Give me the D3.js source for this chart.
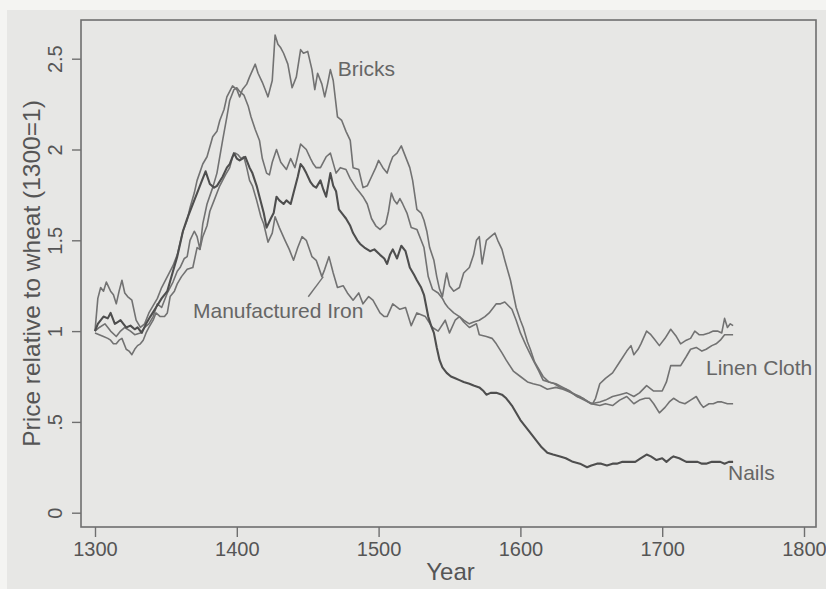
<!DOCTYPE html>
<html>
<head>
<meta charset="utf-8">
<script src="https://cdn.jsdelivr.net/npm/d3@7"></script>
<style>
  body { margin: 0; background: #f4f4f2; }
  svg text { font-family: "Liberation Sans", Arial, Helvetica, sans-serif; }
</style>
</head>
<body>
<div id="chart"></div>
<script>
// data: [year, price relative to wheat]
var bricks = [[1300,1.00],[1302,1.18],[1304,1.24],[1306,1.22],[1308,1.27],[1311,1.22],[1313,1.20],[1315,1.15],[1317,1.22],[1319,1.28],[1321,1.21],[1323,1.19],[1326,1.17],[1329,1.06],[1332,1.02],[1335,1.04],[1338,1.10],[1341,1.14],[1344,1.18],[1347,1.24],[1351,1.30],[1355,1.36],[1358,1.42],[1362,1.55],[1365,1.61],[1367,1.68],[1370,1.76],[1372,1.83],[1376,1.92],[1379,1.96],[1383,2.07],[1386,2.10],[1388,2.16],[1391,2.22],[1393,2.29],[1395,2.32],[1397,2.35],[1400,2.33],[1402,2.29],[1404,2.33],[1407,2.36],[1409,2.40],[1413,2.47],[1415,2.42],[1418,2.37],[1420,2.33],[1422,2.29],[1425,2.38],[1427,2.63],[1429,2.58],[1431,2.56],[1433,2.53],[1436,2.47],[1439,2.34],[1442,2.40],[1445,2.55],[1447,2.53],[1450,2.54],[1453,2.44],[1455,2.33],[1457,2.42],[1460,2.36],[1462,2.29],[1464,2.36],[1466,2.44],[1468,2.38],[1471,2.18],[1474,2.16],[1477,2.10],[1480,2.05],[1482,1.90],[1486,1.89],[1489,1.79],[1492,1.80],[1495,1.85],[1498,1.90],[1500,1.94],[1503,1.90],[1506,1.87],[1508,1.92],[1510,1.96],[1513,1.98],[1516,2.02],[1518,1.98],[1520,1.94],[1522,1.90],[1524,1.83],[1527,1.67],[1530,1.65],[1532,1.61],[1534,1.55],[1536,1.46],[1539,1.39],[1541,1.30],[1543,1.23],[1545,1.19],[1547,1.28],[1548,1.32],[1550,1.25],[1553,1.22],[1557,1.24],[1560,1.32],[1564,1.35],[1567,1.42],[1569,1.50],[1571,1.52],[1573,1.37],[1576,1.50],[1579,1.52],[1582,1.54],[1584,1.50],[1587,1.45],[1589,1.39],[1593,1.28],[1597,1.13],[1600,1.06],[1602,1.02],[1605,0.94],[1607,0.90],[1610,0.83],[1613,0.79],[1616,0.75],[1620,0.72],[1624,0.71],[1628,0.69],[1632,0.68],[1636,0.66],[1640,0.64],[1644,0.63],[1648,0.61],[1651,0.60],[1653,0.63],[1656,0.71],[1660,0.74],[1665,0.77],[1670,0.83],[1675,0.89],[1678,0.92],[1680,0.87],[1683,0.90],[1685,0.93],[1689,1.00],[1692,0.98],[1694,0.96],[1698,0.92],[1702,0.96],[1706,1.01],[1710,0.97],[1713,0.93],[1717,0.95],[1720,0.96],[1723,1.00],[1726,0.98],[1729,0.98],[1733,0.99],[1736,1.00],[1739,1.00],[1742,0.99],[1744,1.07],[1746,1.02],[1748,1.04],[1750,1.03]];

var linenCloth = [[1300,1.00],[1303,1.02],[1307,1.04],[1311,1.00],[1315,0.97],[1318,1.00],[1321,1.02],[1325,1.00],[1328,0.98],[1332,0.99],[1335,1.02],[1338,1.04],[1341,1.08],[1344,1.15],[1347,1.13],[1351,1.21],[1355,1.27],[1358,1.33],[1360,1.35],[1363,1.40],[1365,1.41],[1367,1.50],[1370,1.55],[1372,1.52],[1374,1.45],[1376,1.59],[1379,1.70],[1383,1.79],[1386,1.87],[1390,2.05],[1393,2.18],[1395,2.27],[1398,2.33],[1400,2.34],[1402,2.32],[1405,2.30],[1408,2.24],[1410,2.18],[1413,2.11],[1416,2.05],[1418,1.95],[1421,1.87],[1423,1.86],[1425,1.93],[1428,2.00],[1431,1.93],[1435,1.89],[1438,1.95],[1441,1.90],[1445,2.03],[1449,2.00],[1452,1.95],[1454,1.92],[1456,1.90],[1459,1.90],[1463,1.96],[1466,1.98],[1470,1.87],[1473,1.90],[1477,1.89],[1480,1.84],[1484,1.79],[1487,1.76],[1489,1.74],[1492,1.70],[1495,1.62],[1498,1.58],[1501,1.56],[1505,1.59],[1507,1.66],[1509,1.76],[1511,1.72],[1513,1.70],[1515,1.73],[1517,1.70],[1520,1.65],[1523,1.57],[1527,1.56],[1530,1.50],[1532,1.46],[1535,1.30],[1538,1.23],[1542,1.21],[1545,1.18],[1547,1.15],[1549,1.13],[1553,1.10],[1557,1.08],[1560,1.06],[1564,1.04],[1567,1.05],[1571,1.06],[1575,1.08],[1578,1.10],[1583,1.15],[1586,1.15],[1589,1.16],[1594,1.12],[1597,1.06],[1600,0.99],[1604,0.92],[1609,0.84],[1613,0.78],[1616,0.73],[1620,0.72],[1625,0.71],[1630,0.69],[1635,0.67],[1640,0.64],[1645,0.62],[1650,0.60],[1656,0.61],[1660,0.62],[1665,0.64],[1670,0.65],[1675,0.66],[1680,0.64],[1684,0.66],[1689,0.70],[1694,0.67],[1700,0.67],[1703,0.72],[1706,0.81],[1710,0.81],[1713,0.81],[1717,0.86],[1720,0.90],[1724,0.91],[1728,0.89],[1731,0.90],[1735,0.92],[1738,0.93],[1741,0.95],[1744,0.98],[1747,0.98],[1750,0.98]];

var iron = [[1300,0.99],[1303,0.98],[1306,0.97],[1309,0.96],[1311,0.95],[1313,0.93],[1315,0.93],[1317,0.95],[1319,0.96],[1322,0.90],[1324,0.89],[1326,0.87],[1328,0.90],[1330,0.92],[1332,0.93],[1334,0.95],[1336,0.99],[1338,1.02],[1341,1.06],[1343,1.10],[1346,1.08],[1349,1.08],[1351,1.10],[1353,1.19],[1356,1.22],[1358,1.26],[1361,1.30],[1365,1.34],[1369,1.35],[1372,1.46],[1374,1.45],[1376,1.52],[1379,1.58],[1381,1.66],[1384,1.72],[1386,1.76],[1388,1.80],[1390,1.83],[1392,1.86],[1395,1.90],[1397,1.96],[1399,1.98],[1401,1.97],[1403,1.95],[1405,1.96],[1407,1.90],[1409,1.83],[1411,1.80],[1414,1.72],[1417,1.63],[1419,1.59],[1422,1.49],[1425,1.54],[1427,1.63],[1430,1.57],[1434,1.50],[1437,1.45],[1440,1.39],[1443,1.46],[1446,1.52],[1449,1.50],[1453,1.41],[1456,1.39],[1460,1.30],[1462,1.34],[1465,1.41],[1468,1.32],[1471,1.24],[1475,1.25],[1478,1.21],[1482,1.17],[1486,1.21],[1489,1.15],[1493,1.19],[1496,1.17],[1501,1.10],[1504,1.08],[1506,1.08],[1510,1.15],[1515,1.12],[1519,1.13],[1523,1.03],[1527,1.10],[1530,1.09],[1533,1.08],[1538,1.02],[1542,1.00],[1547,1.06],[1550,0.99],[1554,1.06],[1557,1.08],[1560,1.05],[1564,1.02],[1569,1.04],[1571,0.98],[1576,0.97],[1580,0.96],[1583,0.93],[1587,0.88],[1590,0.84],[1595,0.78],[1600,0.75],[1605,0.72],[1609,0.71],[1614,0.70],[1619,0.68],[1625,0.69],[1630,0.68],[1636,0.66],[1642,0.64],[1646,0.62],[1650,0.60],[1656,0.59],[1660,0.60],[1665,0.59],[1670,0.62],[1675,0.64],[1680,0.60],[1684,0.62],[1688,0.63],[1691,0.63],[1694,0.60],[1698,0.55],[1702,0.58],[1705,0.61],[1708,0.63],[1712,0.61],[1716,0.60],[1720,0.62],[1724,0.64],[1727,0.60],[1729,0.58],[1733,0.60],[1736,0.60],[1739,0.61],[1742,0.61],[1746,0.60],[1750,0.60]];

var nails = [[1300,1.00],[1302,1.04],[1306,1.08],[1309,1.07],[1311,1.10],[1314,1.04],[1316,1.05],[1318,1.06],[1320,1.04],[1322,1.02],[1325,1.03],[1328,1.01],[1330,1.02],[1333,0.99],[1336,1.04],[1339,1.08],[1343,1.13],[1347,1.18],[1351,1.22],[1355,1.33],[1358,1.41],[1362,1.55],[1365,1.62],[1367,1.66],[1370,1.72],[1372,1.76],[1375,1.82],[1378,1.88],[1381,1.81],[1384,1.79],[1386,1.80],[1390,1.85],[1393,1.90],[1395,1.92],[1398,1.98],[1400,1.95],[1402,1.94],[1406,1.96],[1409,1.90],[1411,1.87],[1414,1.80],[1416,1.74],[1419,1.65],[1421,1.57],[1424,1.62],[1426,1.65],[1428,1.74],[1430,1.72],[1433,1.70],[1435,1.72],[1438,1.70],[1440,1.76],[1443,1.85],[1445,1.92],[1447,1.90],[1449,1.87],[1452,1.82],[1454,1.80],[1456,1.79],[1459,1.83],[1461,1.78],[1463,1.74],[1466,1.87],[1468,1.80],[1470,1.77],[1472,1.67],[1475,1.64],[1477,1.62],[1480,1.58],[1482,1.54],[1485,1.50],[1487,1.48],[1490,1.46],[1494,1.44],[1497,1.45],[1501,1.42],[1504,1.40],[1506,1.37],[1508,1.42],[1510,1.45],[1513,1.40],[1516,1.47],[1519,1.44],[1522,1.35],[1525,1.31],[1527,1.28],[1530,1.24],[1532,1.20],[1535,1.08],[1537,1.03],[1539,0.99],[1541,0.91],[1543,0.84],[1545,0.80],[1548,0.77],[1551,0.75],[1554,0.74],[1557,0.73],[1560,0.72],[1564,0.71],[1567,0.70],[1571,0.69],[1574,0.67],[1576,0.65],[1579,0.66],[1583,0.66],[1587,0.65],[1590,0.63],[1594,0.59],[1597,0.55],[1600,0.51],[1604,0.47],[1608,0.43],[1611,0.40],[1615,0.36],[1619,0.33],[1623,0.32],[1628,0.31],[1632,0.30],[1637,0.28],[1642,0.27],[1647,0.25],[1650,0.26],[1654,0.27],[1657,0.27],[1661,0.26],[1665,0.27],[1668,0.27],[1672,0.28],[1677,0.28],[1681,0.28],[1685,0.30],[1689,0.32],[1692,0.31],[1696,0.29],[1700,0.30],[1703,0.28],[1706,0.30],[1708,0.31],[1712,0.30],[1717,0.28],[1721,0.28],[1725,0.28],[1728,0.27],[1731,0.27],[1735,0.28],[1738,0.28],[1741,0.28],[1744,0.27],[1747,0.28],[1750,0.28]];

var xTicks = [1300, 1400, 1500, 1600, 1700, 1800];
var yTicks = [0, 0.5, 1, 1.5, 2, 2.5];
var yTickLabels = ["0", ".5", "1", "1.5", "2", "2.5"];

var width = 826, height = 589;

var svg = d3.select("#chart")
    .append("svg")
    .attr("width", width)
    .attr("height", height);

// scanned page background
svg.append("rect")
    .attr("x", 7).attr("y", 10)
    .attr("width", width - 7).attr("height", height - 10)
    .attr("fill", "#e7e7e5");

var x = d3.scaleLinear().domain([1300, 1800]).range([95, 804]);
var y = d3.scaleLinear().domain([0, 2.5]).range([512.7, 58.7]);

// plot box
var box = {left: 81, right: 816, top: 20, bottom: 527};
svg.append("rect")
    .attr("x", box.left).attr("y", box.top)
    .attr("width", box.right - box.left)
    .attr("height", box.bottom - box.top)
    .attr("fill", "none")
    .attr("stroke", "#6f6f6f")
    .attr("stroke-width", 1.6);

// X axis
var xAxis = svg.append("g")
    .attr("transform", "translate(0," + box.bottom + ")")
    .call(d3.axisBottom(x).tickValues(xTicks).tickFormat(d3.format("d")).tickSize(10).tickPadding(5).tickSizeOuter(0));
xAxis.select(".domain").remove();
xAxis.selectAll("line").attr("stroke", "#6f6f6f").attr("stroke-width", 1.4);
xAxis.selectAll("text")
    .style("font-size", "20px")
    .attr("fill", "#555");

// Y axis, labels turned like the original
var yAxis = svg.append("g")
    .attr("transform", "translate(" + box.left + ",0)")
    .call(d3.axisLeft(y).tickValues(yTicks).tickFormat(function(d, i) { return yTickLabels[i]; }).tickSize(9).tickSizeOuter(0));
yAxis.select(".domain").remove();
yAxis.selectAll("line").attr("stroke", "#6f6f6f").attr("stroke-width", 1.4);
yAxis.selectAll("text")
    .attr("x", null).attr("dy", null)
    .attr("transform", "translate(-19,0) rotate(-90)")
    .style("text-anchor", "middle")
    .style("font-size", "20px")
    .attr("fill", "#555");

// axis titles
svg.append("text")
    .attr("transform", "translate(40," + ((box.top + box.bottom) / 2) + ") rotate(-90)")
    .style("text-anchor", "middle")
    .style("font-size", "24.5px")
    .attr("fill", "#555")
    .text("Price relative to wheat (1300=1)");

svg.append("text")
    .attr("x", (box.left + box.right) / 2 + 2)
    .attr("y", 580)
    .style("text-anchor", "middle")
    .style("font-size", "24px")
    .attr("fill", "#555")
    .text("Year");

// lines
var line = d3.line()
    .x(function(d) { return x(d[0]); })
    .y(function(d) { return y(d[1]); });

var series = [
    {data: bricks, color: "#727272", w: 1.6},
    {data: linenCloth, color: "#727272", w: 1.6},
    {data: iron, color: "#727272", w: 1.6},
    {data: nails, color: "#4e4e4e", w: 2.1}
];
series.forEach(function(s) {
    svg.append("path")
        .datum(s.data)
        .attr("fill", "none")
        .attr("stroke", s.color)
        .attr("stroke-width", s.w)
        .attr("stroke-linejoin", "round")
        .attr("d", line);
});

// series labels
function label(txt, yr, v) {
    svg.append("text")
        .attr("x", x(yr)).attr("y", y(v))
        .style("font-size", "21px")
        .attr("fill", "#666")
        .text(txt);
}
label("Bricks", 1471.2, 2.406);
label("Manufactured Iron", 1369.1, 1.072);
label("Linen Cloth", 1730.9, 0.758);
label("Nails", 1746.4, 0.18);

// pointer from the iron label to its line
svg.append("line")
    .attr("x1", x(1450.4)).attr("y1", y(1.189))
    .attr("x2", x(1461.0)).attr("y2", y(1.30))
    .attr("stroke", "#727272")
    .attr("stroke-width", 1.4);
</script>
</body>
</html>
